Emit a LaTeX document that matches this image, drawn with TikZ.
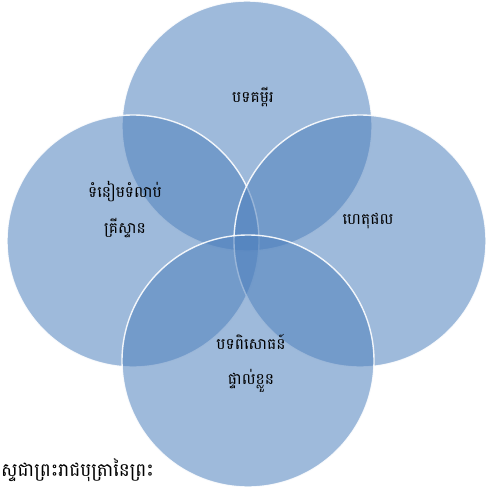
\documentclass[tikz,border=0pt]{standalone}
\usepackage{fontspec}
\newfontfamily\khmer[Script=Khmer]{Battambang}
\definecolor{circfill}{RGB}{79,129,189}
\begin{document}
\begin{tikzpicture}[x=1pt,y=-1pt,
  venn/.style={fill=circfill,fill opacity=0.55,draw=white,draw opacity=0.9,line width=1.4pt},
  lbl/.style={font=\khmer\fontsize{15.5}{17}\selectfont,text=black,inner sep=0pt,align=center}]
\useasboundingbox (0,0) rectangle (486,487);
\begin{scope}
\clip (0,0) rectangle (486,487);
\path[venn] (247,126) circle (125);
\path[venn] (133,241) circle (126);
\path[venn] (360,241) circle (126);
\path[venn] (248,361) circle (126);
\node[lbl] (top) at (253,97) {បទគម្ពីរ};
\node[lbl] (left1) at (125,192) {ទំនៀមទំលាប់};
\node[lbl] (left2) at (125,228) {គ្រីស្ទាន};
\node[lbl] (right) at (368,221) {ហេតុផល};
\node[lbl] (bot1) at (251,342) {បទពិសោធន៍};
\node[lbl] (bot2) at (251,381) {ផ្ទាល់ខ្លួន};
\node[lbl,anchor=west,font=\khmer\fontsize{18.5}{20}\selectfont] (foot) at (1,470) {ស្ទជាព្រះរាជបុត្រានៃព្រះ};
\end{scope}
\end{tikzpicture}
\end{document}
